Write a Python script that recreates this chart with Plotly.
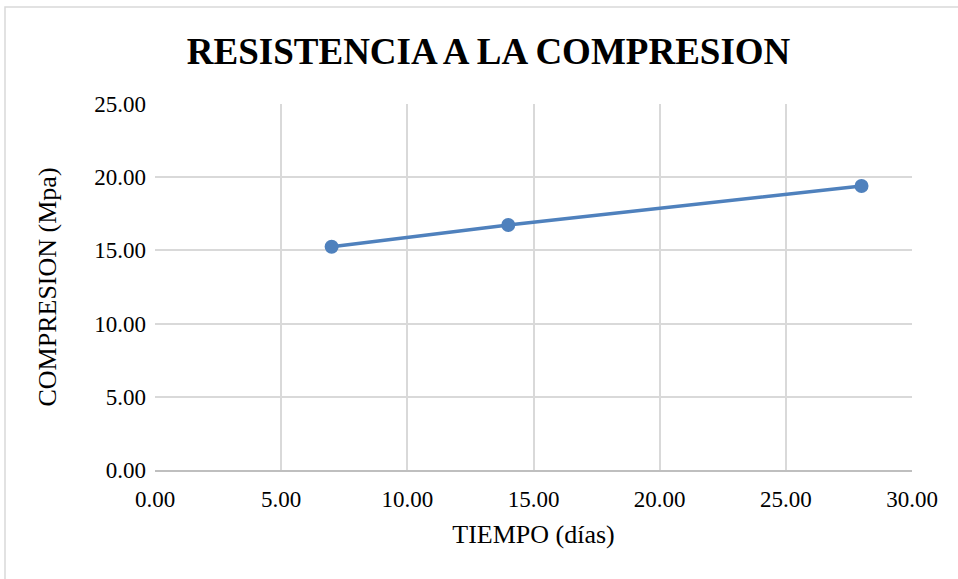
import plotly.graph_objects as go

# Compressive strength versus curing age
dias = [7, 14, 28]
compresion = [15.25, 16.73, 19.40]

x_ticks = [0, 5, 10, 15, 20, 25, 30]
y_ticks = [0, 5, 10, 15, 20, 25]

FONT = "Liberation Serif"
GRID = "#d9d9d9"

fig = go.Figure()
fig.add_trace(go.Scatter(
    x=dias, y=compresion, mode="lines+markers",
    line=dict(color="#4f81bd", width=3.5),
    marker=dict(color="#4f81bd", size=14),
    showlegend=False,
))

fig.update_layout(
    width=958, height=579,
    margin=dict(l=155, r=46, t=104, b=109),
    paper_bgcolor="white", plot_bgcolor="white",
    font=dict(family=FONT, color="black"),
    title=dict(text="<b>RESISTENCIA A LA COMPRESION</b>",
               font=dict(size=37, family=FONT, color="black"),
               x=0.51, xanchor="center", y=0.912, yanchor="middle"),
    xaxis=dict(range=[0, 30], tickvals=x_ticks,
               ticktext=[f"{v:.2f}" for v in x_ticks],
               showgrid=True, gridcolor=GRID, gridwidth=1.5,
               showline=True, linecolor="#bfbfbf", linewidth=1.5,
               zeroline=False, ticks="",
               tickfont=dict(size=23, family=FONT, color="black"),
               ticklabelstandoff=8,
               title=dict(text="TIEMPO (días)",
                          font=dict(size=26, family=FONT, color="black"),
                          standoff=13)),
    yaxis=dict(range=[0, 25], tickvals=y_ticks,
               ticktext=[f"{v:.2f}" for v in y_ticks],
               showgrid=True, gridcolor=GRID, gridwidth=1.5,
               showline=False, zeroline=False, ticks="",
               tickfont=dict(size=23, family=FONT, color="black"),
               ticklabelstandoff=8,
               title=dict(text="COMPRESION (Mpa)",
                          font=dict(size=26, family=FONT, color="black"),
                          standoff=30)),
)

# Light outer frame of the chart area
fig.add_shape(type="rect", xref="paper", yref="paper",
              x0=(5 - 155) / 757, x1=(970 - 155) / 757,
              y0=(470 - 590) / 366, y1=1 + (104 - 7) / 366,
              line=dict(color="#d9d9d9", width=1.5), fillcolor="rgba(0,0,0,0)",
              layer="below")

fig.write_html("out.html")
